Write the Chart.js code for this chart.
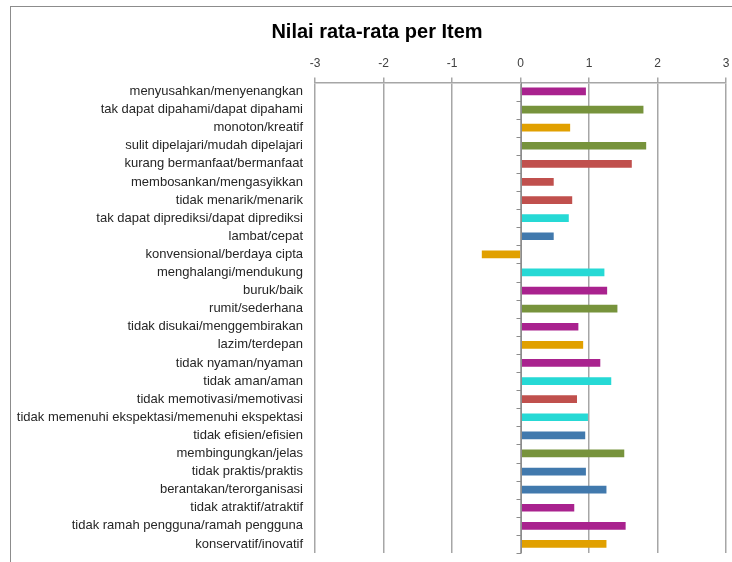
<!DOCTYPE html>
<html>
<head>
<meta charset="utf-8">
<script src="https://cdn.jsdelivr.net/npm/chart.js@4.4.0/dist/chart.umd.min.js"></script>
<style>
  html, body { margin: 0; padding: 0; background: #fff; }
  canvas { display: block; }
</style>
</head>
<body>
<canvas id="chart" width="732" height="562"></canvas>
<script>
// item labels, top to bottom
const items = [
    'menyusahkan/menyenangkan',
    'tak dapat dipahami/dapat dipahami',
    'monoton/kreatif',
    'sulit dipelajari/mudah dipelajari',
    'kurang bermanfaat/bermanfaat',
    'membosankan/mengasyikkan',
    'tidak menarik/menarik',
    'tak dapat diprediksi/dapat diprediksi',
    'lambat/cepat',
    'konvensional/berdaya cipta',
    'menghalangi/mendukung',
    'buruk/baik',
    'rumit/sederhana',
    'tidak disukai/menggembirakan',
    'lazim/terdepan',
    'tidak nyaman/nyaman',
    'tidak aman/aman',
    'tidak memotivasi/memotivasi',
    'tidak memenuhi ekspektasi/memenuhi ekspektasi',
    'tidak efisien/efisien',
    'membingungkan/jelas',
    'tidak praktis/praktis',
    'berantakan/terorganisasi',
    'tidak atraktif/atraktif',
    'tidak ramah pengguna/ramah pengguna',
    'konservatif/inovatif'
];

const scores = [
    0.95, 1.79, 0.72, 1.83, 1.62, 0.48, 0.75, 0.70, 0.48, -0.56,
    1.22, 1.26, 1.41, 0.84, 0.91, 1.16, 1.32, 0.82, 0.98, 0.94,
    1.51, 0.95, 1.25, 0.78, 1.53, 1.25
];

const xTicks = [-3, -2, -1, 0, 1, 2, 3];

// bar colours per item
const P = '#A9228E', G = '#77933C', O = '#E1A000', R = '#C0504D', C = '#26D9D5', B = '#4179AD';
const barColors = [P, G, O, G, R, R, R, C, B, O, C, P, G, P, O, P, C, R, C, B, G, B, B, P, P, O];

const fontFamily = "'Liberation Sans', Arial, sans-serif";

// white background + outer frame
const framePlugin = {
    id: 'frame',
    afterLayout(chart) {
        // title sits a bit right of the canvas centre in the original
        chart.titleBlock.left += 18;
    },
    beforeDraw(chart) {
        const ctx = chart.ctx;
        ctx.save();
        ctx.fillStyle = '#fff';
        ctx.fillRect(0, 0, chart.width, chart.height);
        ctx.strokeStyle = '#8c8c8c';
        ctx.lineWidth = 1;
        ctx.strokeRect(10.5, 6.5, 740, 600);
        ctx.restore();
    }
};

// category axis sits on zero: small ticks between items
const zeroAxisPlugin = {
    id: 'zeroAxis',
    afterDatasetsDraw(chart) {
        const ctx = chart.ctx;
        const x0 = Math.round(chart.scales.x.getPixelForValue(0)) + 0.5;
        const area = chart.chartArea;
        const step = (area.bottom - area.top) / items.length;
        ctx.save();
        ctx.strokeStyle = '#8c8c8c';
        ctx.lineWidth = 1;
        ctx.beginPath();
        for (let i = 1; i <= items.length; i++) {
            const y = Math.round(area.top + i * step) + 0.5;
            ctx.moveTo(x0 - 5, y);
            ctx.lineTo(x0, y);
        }
        ctx.moveTo(x0, area.top);
        ctx.lineTo(x0, area.bottom);
        ctx.stroke();
        ctx.restore();
    }
};

new Chart(document.getElementById('chart'), {
    type: 'bar',
    data: {
        labels: items,
        datasets: [{
            data: scores,
            backgroundColor: barColors,
            borderWidth: 0,
            barThickness: 7
        }]
    },
    options: {
        indexAxis: 'y',
        responsive: false,
        animation: false,
        layout: {
            padding: { left: 10, right: 6, top: 0, bottom: 9 }
        },
        scales: {
            x: {
                position: 'top',
                min: xTicks[0],
                max: xTicks[xTicks.length - 1],
                afterBuildTicks(scale) {
                    scale.ticks = xTicks.map(v => ({ value: v }));
                },
                afterFit(scale) {
                    scale.paddingLeft = 0;
                    scale.paddingRight = 0;
                },
                ticks: {
                    color: '#404040',
                    padding: 7,
                    font: { family: fontFamily, size: 12 }
                },
                grid: {
                    color: '#a6a6a6',
                    lineWidth: 1.5,
                    tickLength: 5
                },
                border: { color: '#a6a6a6', width: 1.5 }
            },
            y: {
                afterFit(scale) {
                    scale.width = 315 - 10;
                    scale.paddingTop = 0;
                    scale.paddingBottom = 0;
                },
                grid: { display: false },
                border: { display: false },
                ticks: {
                    color: '#262626',
                    padding: 4,
                    autoSkip: false,
                    font: { family: fontFamily, size: 13 }
                }
            }
        },
        plugins: {
            legend: { display: false },
            tooltip: { enabled: false },
            title: {
                display: true,
                text: 'Nilai rata-rata per Item',
                color: '#000',
                font: { family: fontFamily, size: 20, weight: 'bold' },
                padding: { top: 20, bottom: 5 }
            }
        }
    },
    plugins: [framePlugin, zeroAxisPlugin]
});
</script>
</body>
</html>
